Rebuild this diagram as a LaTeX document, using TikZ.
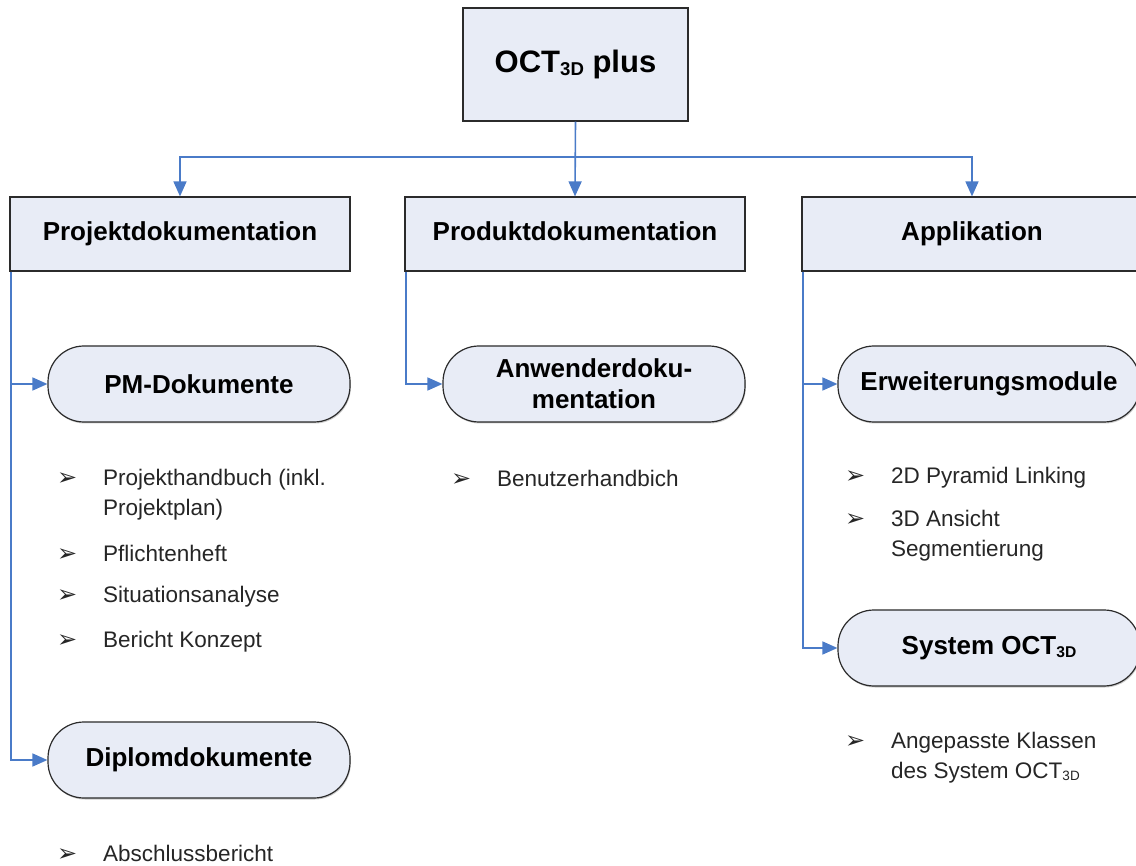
\documentclass[tikz,border=0pt]{standalone}
\usepackage{fontspec}
\setmainfont{Liberation Sans}
\newfontfamily\symfont{DejaVu Sans}
\usetikzlibrary{positioning}
\usetikzlibrary{arrows.meta,shadows}
\definecolor{boxfill}{HTML}{E8ECF6}
\definecolor{linie}{HTML}{4A7BC8}
\definecolor{rand}{HTML}{2B2B2B}
\newcommand{\pfeil}{\makebox[46pt][l]{\raisebox{0pt}{\symfont\fontsize{24}{24}\selectfont ➢}}}
\newcommand{\einzug}{\hspace*{46pt}}
\newcommand{\tief}[1]{\raisebox{-0.2ex}{\fontsize{0.6em}{1em}\selectfont #1}}
\tikzset{
	kopf/.style={
		rectangle,
		fill=boxfill,
		draw=rand, line width=1.2pt,
		minimum width=225pt,
		minimum height=113pt,
		font=\fontsize{31}{36}\selectfont\bfseries},
	ebene/.style={
		rectangle,
		fill=boxfill,
		draw=rand, line width=1.2pt,
		minimum width=340pt,
		minimum height=74pt,
		text height=19pt, text depth=5pt,
		drop shadow={shadow xshift=0.8pt, shadow yshift=-1.5pt, fill=black!40},
		font=\fontsize{26}{31}\selectfont\bfseries},
	modul/.style={
		rectangle,
		rounded corners=36pt,
		fill=boxfill,
		draw=rand, line width=1.2pt,
		minimum width=302pt,
		minimum height=76pt,
		align=center,
		drop shadow={shadow xshift=0.8pt, shadow yshift=-1.5pt, fill=black!40},
		font=\fontsize{26}{31}\selectfont\bfseries},
	verbinder/.style={draw=linie, line width=1.6pt, -{Triangle[length=15pt,width=13pt]}},
	punkt/.style={anchor=west, inner sep=0pt, align=left,
		text=black!85, font=\fontsize{22.5}{30}\selectfont},
}
\begin{document}
\begin{tikzpicture}[x=1pt, y=-1pt]
	\fill[white] (0,0) rectangle (1136,866);
	\useasboundingbox (0,0) rectangle (1136,866);

	% oberste Ebene
	\node[kopf] (oct) at (575.5,64.5) {OCT\tief{3D} plus};
	\coordinate (bus) at (575.5,157);

	% zweite Ebene
	\node[ebene] (proj) at (180,234) {Projektdokumentation};
	\node[ebene] (prod) at (575,234) {Produktdokumentation};
	\node[ebene] (appl) at (972,234) {Applikation};

	\draw[verbinder] (oct.south) -- (prod.north);
	\draw[verbinder] (bus) -| (proj.north);
	\draw[verbinder] (bus) -| (appl.north);

	% Module
	\node[modul] (pm) at (199,384) {PM-Dokumente};
	\node[modul] (diplom) at (199,760) {Diplomdokumente};
	\node[modul] (anwender) at (594,384) {Anwenderdoku-\\mentation};
	\node[modul] (erweit) at (989,384) {Erweiterungsmodule};
	\node[modul] (system) at (989,648) {System OCT\tief{3D}};

	\draw[verbinder] ([xshift=1.5pt]proj.south west) |- (pm.west);
	\draw[verbinder] ([xshift=1.5pt]proj.south west) |- (diplom.west);
	\draw[verbinder] ([xshift=1.5pt]prod.south west) |- (anwender.west);
	\draw[verbinder] ([xshift=1.5pt]appl.south west) |- (erweit.west);
	\draw[verbinder] ([xshift=1.5pt]appl.south west) |- (system.west);

	% Aufzaehlungen
	\node[punkt] (handbuch) at (57,495) {\pfeil Projekthandbuch (inkl.\\\einzug Projektplan)};
	\node[punkt] (pflicht) at (57,553) {\pfeil Pflichtenheft};
	\node[punkt] (situation) at (57,597) {\pfeil Situationsanalyse};
	\node[punkt] (konzept) at (57,642) {\pfeil Bericht Konzept};
	\node[punkt] (abschluss) at (57,853) {\pfeil Abschlussbericht};
	\node[punkt] (benutzer) at (451,478) {\pfeil Benutzerhandbich};
	\node[punkt] (pyramid) at (845,478) {\pfeil 2D Pyramid Linking};
	\node[punkt] (ansicht) at (845,535.5) {\pfeil 3D Ansicht\\\einzug Segmentierung};
	\node[punkt] (klassen) at (845,757.5) {\pfeil Angepasste Klassen\\\einzug des System OCT\tief{3D}};
\end{tikzpicture}
\end{document}
